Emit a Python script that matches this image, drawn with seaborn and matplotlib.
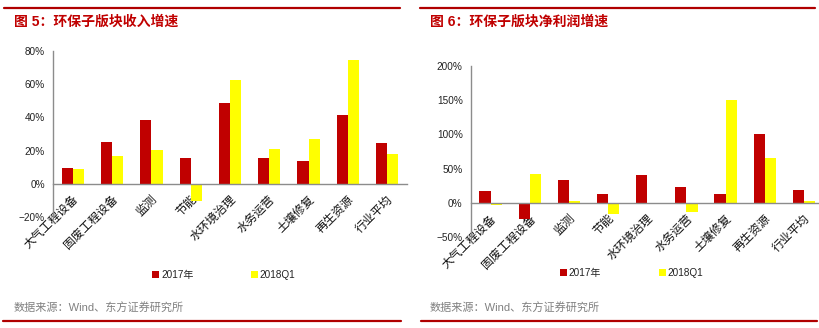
import numpy as np
import pandas as pd
import seaborn as sns
import matplotlib
matplotlib.use("Agg")
import matplotlib.pyplot as plt
from matplotlib.lines import Line2D
from matplotlib.ticker import FixedLocator, FuncFormatter, MultipleLocator
from matplotlib.transforms import ScaledTranslation

# ---- data -------------------------------------------------------------
categories = ["大气工程设备", "固废工程设备", "监测", "节能", "水环境治理",
              "水务运营", "土壤修复", "再生资源", "行业平均"]
series_names = ["2017年", "2018Q1"]

revenue_2017 = [9.8, 25.4, 38.7, 15.4, 48.5, 15.3, 14.0, 41.7, 24.8]
revenue_2018q1 = [9.0, 16.8, 20.5, -10.6, 62.5, 21.0, 27.0, 74.5, 17.8]

profit_2017 = [16.8, -23.0, 34.0, 13.4, 40.6, 24.0, 12.4, 100.4, 19.3]
profit_2018q1 = [-3.6, 41.6, 2.5, -15.8, 0.0, -13.4, 150.0, 65.4, 2.6]

titles = ["图 5：环保子版块收入增速", "图 6：环保子版块净利润增速"]
source_text = "数据来源：Wind、东方证券研究所"

# ---- style ------------------------------------------------------------
sns.set_style("white")
plt.rcParams["font.family"] = ["Liberation Sans", "Noto Sans CJK SC", "DejaVu Sans"]
plt.rcParams["axes.unicode_minus"] = True

BAR_RED = "#C00000"
BAR_YELLOW = "#FFFF00"
RULE_RED = "#B00000"
AXIS_GRAY = "#8C8C8C"
TITLE_RED = "#C00000"

DPI = 100
fig = plt.figure(figsize=(8.2, 3.28), dpi=DPI)
W, H = 820, 328


def px_axes(x0, y_top, x1, y_bottom):
    return fig.add_axes([x0 / W, 1 - y_bottom / H, (x1 - x0) / W, (y_bottom - y_top) / H])


def pct(v, _pos=None):
    v = int(round(v))
    return ("\u2212" if v < 0 else "") + f"{abs(v)}%"


def draw_panel(ax, v17, v18, ylim, step, legend_center):
    df = pd.DataFrame({
        "category": categories * 2,
        "series": [series_names[0]] * len(categories) + [series_names[1]] * len(categories),
        "value": list(v17) + list(v18),
    })
    sns.barplot(data=df, x="category", y="value", hue="series",
                order=categories, hue_order=series_names,
                palette=[BAR_RED, BAR_YELLOW], saturation=1,
                width=0.57, gap=0, errorbar=None, linewidth=0,
                ax=ax)
    handles, labels = ax.get_legend_handles_labels()
    if ax.legend_ is not None:
        ax.legend_.remove()

    ax.set_xlim(-0.5, len(categories) - 0.5)
    ax.set_ylim(*ylim)
    ax.set_xlabel("")
    ax.set_ylabel("")
    ax.set_facecolor("none")

    for side in ("top", "right"):
        ax.spines[side].set_visible(False)
    ax.spines["bottom"].set_position(("data", 0))
    for side in ("left", "bottom"):
        ax.spines[side].set_color(AXIS_GRAY)
        ax.spines[side].set_linewidth(1.0)

    ax.yaxis.set_major_locator(MultipleLocator(step))
    ax.yaxis.set_major_formatter(FuncFormatter(pct))
    ax.tick_params(axis="y", direction="out", length=3, width=0.8,
                   color=AXIS_GRAY, labelsize=7.2, pad=3, labelcolor="#222222")

    ax.set_xticks(range(len(categories)))
    ax.set_xticklabels(categories)
    ax.xaxis.set_minor_locator(FixedLocator(np.arange(-0.5, len(categories), 1.0)))
    ax.tick_params(axis="x", which="major", length=0, pad=0,
                   labelsize=8.5, labelcolor="#111111")
    ax.tick_params(axis="x", which="minor", direction="out", length=4,
                   width=0.8, color=AXIS_GRAY)

    shift = ScaledTranslation(4 / DPI, -14 / DPI, fig.dpi_scale_trans)
    for lbl in ax.get_xticklabels():
        lbl.set_rotation(45)
        lbl.set_ha("right")
        lbl.set_va("center")
        lbl.set_rotation_mode("anchor")
        lbl.set_transform(lbl.get_transform() + shift)

    fig.legend(handles, labels, loc="center",
               bbox_to_anchor=(legend_center[0] / W, 1 - legend_center[1] / H),
               bbox_transform=fig.transFigure, ncol=2, frameon=False,
               fontsize=7.2, handlelength=0.65, handleheight=0.65,
               handletextpad=0.2, columnspacing=5.8, borderpad=0,
               labelcolor="#222222")


# left panel: revenue growth
ax1 = px_axes(53.3, 51, 406.7, 217)
draw_panel(ax1, revenue_2017, revenue_2018q1, (-20, 80), 20, (224, 275))

# right panel: net profit growth
ax2 = px_axes(471, 65.7, 823.4, 237.3)
draw_panel(ax2, profit_2017, profit_2018q1, (-50, 200), 50, (632, 273))

# header / footer rules, titles and source notes
for (x0, x1) in [(4, 400), (420, 815)]:
    fig.add_artist(Line2D([x0 / W, x1 / W], [1 - 7.5 / H, 1 - 7.5 / H],
                          color=RULE_RED, lw=1.6, transform=fig.transFigure))
for (x0, x1) in [(3, 401), (421, 817)]:
    fig.add_artist(Line2D([x0 / W, x1 / W], [1 - 320.5 / H, 1 - 320.5 / H],
                          color=RULE_RED, lw=1.6, transform=fig.transFigure))

for x, t in zip([14, 430], titles):
    fig.text(x / W, 1 - 22 / H, t, color=TITLE_RED, fontsize=10,
             fontweight="bold", ha="left", va="center")
for x in [14, 430]:
    fig.text(x / W, 1 - 308 / H, source_text, color="#808080",
             fontsize=8, ha="left", va="center")

fig.savefig("out.png", dpi=DPI)
